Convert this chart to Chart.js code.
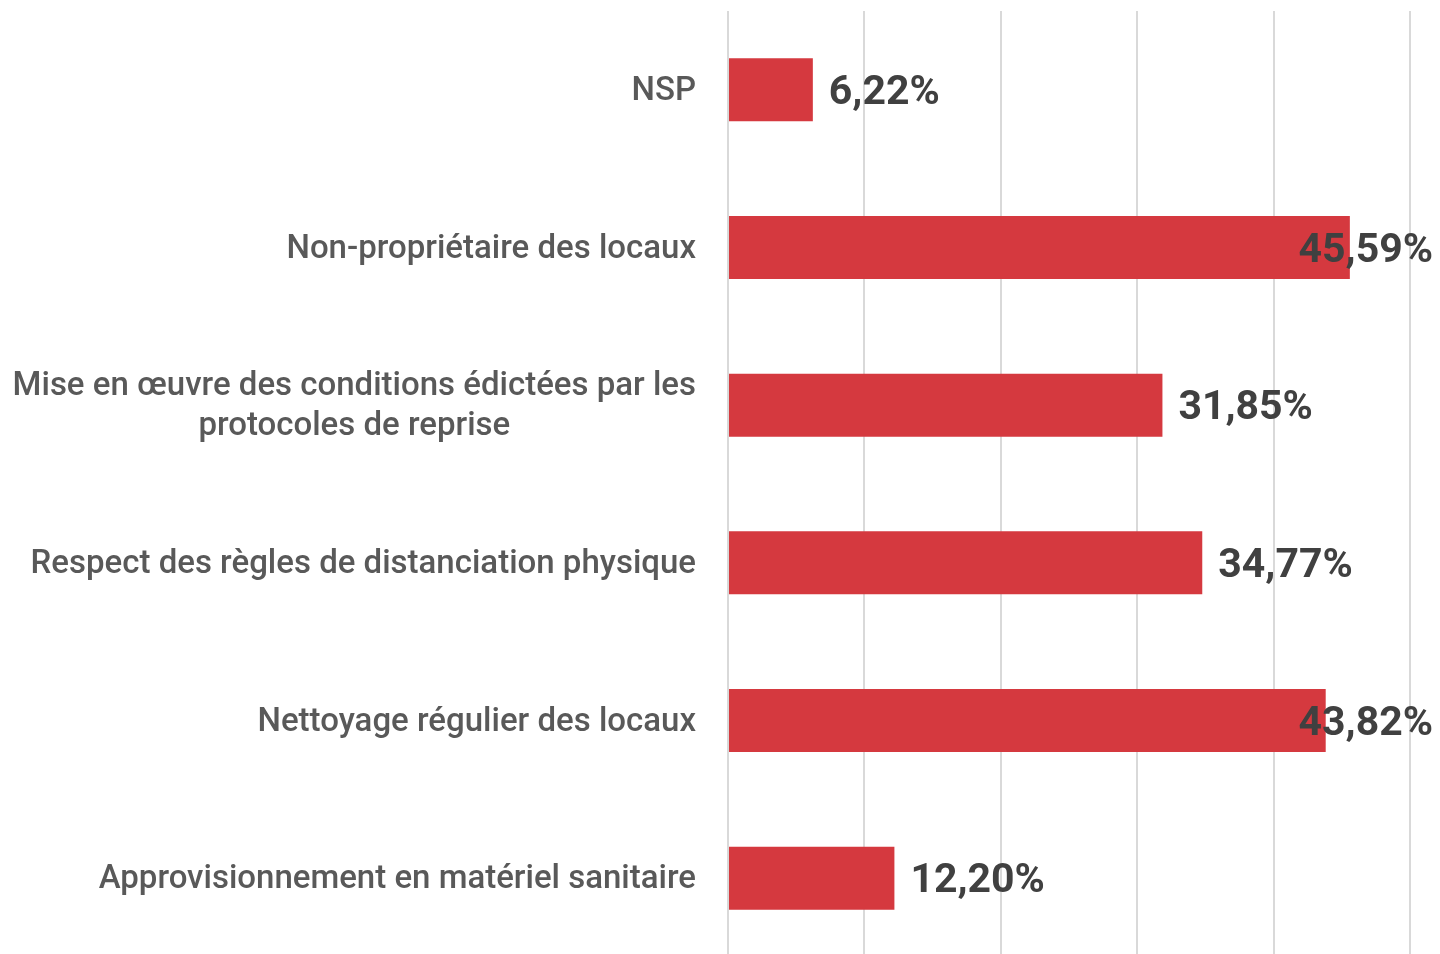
<!DOCTYPE html>
<html>
<head>
<meta charset="utf-8">
<script src="https://cdn.jsdelivr.net/npm/chart.js@4"></script>
<style>
  html, body { margin: 0; padding: 0; background: #fff; overflow: hidden; }
  #wrap { width: 1440px; height: 957px; }
</style>
</head>
<body>
<div id="wrap"><canvas id="chart"></canvas></div>
<script>
const categories = [
  ['NSP'],
  ['Non-propriétaire des locaux'],
  ['Mise en œuvre des conditions édictées par les', 'protocoles de reprise'],
  ['Respect des règles de distanciation physique'],
  ['Nettoyage régulier des locaux'],
  ['Approvisionnement en matériel sanitaire']
];
const values = [6.22, 45.59, 31.85, 34.77, 43.82, 12.20];
const xTicks = [0, 10, 20, 30, 40, 50];

const labelFont = '500 33px Roboto, "Noto Sans", sans-serif';
const valueFont = 'bold 41px Roboto, "Noto Sans", sans-serif';

const fmt = v => v.toFixed(2).replace('.', ',') + '%';

// category labels on the left, right aligned, multi-line blocks centred
const catLabels = {
  id: 'catLabels',
  afterDraw(chart) {
    const ctx = chart.ctx;
    const y = chart.scales.y;
    const right = chart.chartArea.left - 32;
    ctx.save();
    ctx.font = labelFont;
    ctx.fillStyle = '#595959';
    ctx.textBaseline = 'middle';
    categories.forEach((lines, i) => {
      const cy = y.getPixelForValue(i);
      const lh = 40;
      const w = Math.max(...lines.map(l => ctx.measureText(l).width));
      const cx = right - w / 2;
      ctx.textAlign = 'center';
      lines.forEach((l, k) => {
        ctx.fillText(l, cx, cy + (k - (lines.length - 1) / 2) * lh + 2);
      });
    });
    ctx.restore();
  }
};

// value labels after bars, pushed back inside the canvas if too long
const valueLabels = {
  id: 'valueLabels',
  afterDraw(chart) {
    const ctx = chart.ctx;
    const meta = chart.getDatasetMeta(0);
    ctx.save();
    ctx.font = valueFont;
    ctx.fillStyle = '#404040';
    ctx.textBaseline = 'middle';
    ctx.textAlign = 'left';
    meta.data.forEach((bar, i) => {
      const t = fmt(values[i]);
      const w = ctx.measureText(t).width;
      let x = bar.x + 16;
      if (x + w > chart.width - 7) x = chart.width - 7 - w;
      ctx.fillText(t, x, bar.y + 4);
    });
    ctx.restore();
  }
};

new Chart(document.getElementById('chart'), {
  type: 'bar',
  data: {
    labels: categories,
    datasets: [{
      data: values,
      backgroundColor: '#d5393f',
      barPercentage: 0.4,
      categoryPercentage: 1
    }]
  },
  options: {
    indexAxis: 'y',
    responsive: true,
    maintainAspectRatio: false,
    animation: false,
    layout: { padding: { left: 720, right: 30, top: 11, bottom: 0 } },
    plugins: { legend: { display: false }, tooltip: { enabled: false } },
    scales: {
      x: {
        min: 0, max: 50,
        afterBuildTicks: s => { s.ticks = xTicks.map(v => ({ value: v })); },
        ticks: { display: false },
        grid: { color: '#d9d9d9', lineWidth: 2, drawTicks: false },
        border: { display: false }
      },
      y: {
        ticks: { display: false },
        grid: { display: false },
        border: { display: false }
      }
    }
  },
  plugins: [catLabels, valueLabels]
});
</script>
</body>
</html>
